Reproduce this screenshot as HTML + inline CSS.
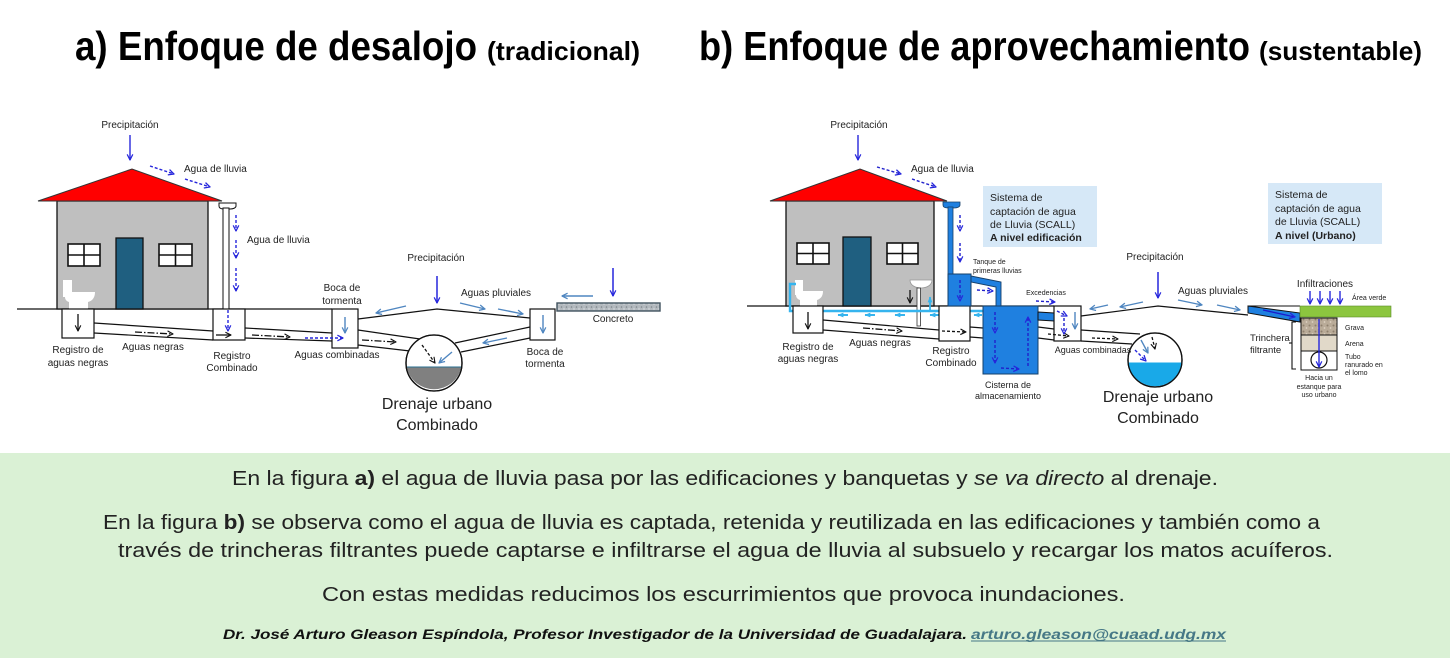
<!DOCTYPE html>
<html><head><meta charset="utf-8"><style>
html,body{margin:0;padding:0;background:#fff;}
svg{display:block;}
text{font-family:"Liberation Sans",Arial,sans-serif;fill:#222;}
</style></head><body>
<svg width="1450" height="661" viewBox="0 0 1450 661" xmlns="http://www.w3.org/2000/svg">
<defs>
<marker id="mb" viewBox="0 0 10 10" refX="9" refY="5" markerWidth="7" markerHeight="7" markerUnits="userSpaceOnUse" orient="auto"><path d="M1,1 L9,5 L1,9" fill="none" stroke="#2626dc" stroke-width="1.8"/></marker>
<marker id="ms" viewBox="0 0 10 10" refX="9" refY="5" markerWidth="7" markerHeight="7" markerUnits="userSpaceOnUse" orient="auto"><path d="M1,1 L9,5 L1,9" fill="none" stroke="#4f86c0" stroke-width="1.8"/></marker>
<marker id="mk" viewBox="0 0 10 10" refX="9" refY="5" markerWidth="7" markerHeight="7" markerUnits="userSpaceOnUse" orient="auto"><path d="M1,1 L9,5 L1,9" fill="none" stroke="#111" stroke-width="1.6"/></marker>
<marker id="mc" viewBox="0 0 10 10" refX="9" refY="5" markerWidth="6" markerHeight="6" markerUnits="userSpaceOnUse" orient="auto"><path d="M0,1 L10,5 L0,9 Z" fill="#35b4ee"/></marker>
<pattern id="grav" width="6" height="6" patternUnits="userSpaceOnUse"><rect width="6" height="6" fill="#b9ab98"/><circle cx="1.5" cy="1.5" r="1" fill="#8e7f6c"/><circle cx="4.5" cy="4" r="0.9" fill="#ddd2c2"/></pattern>
<pattern id="conc" width="5" height="5" patternUnits="userSpaceOnUse"><rect width="5" height="5" fill="#b3b9be"/><circle cx="1.5" cy="2" r="0.8" fill="#7e868c"/><circle cx="4" cy="4" r="0.7" fill="#dfe3e6"/></pattern>
</defs>

<!-- TITLES -->
<text x="75" y="60" font-size="41" font-weight="bold" textLength="402" lengthAdjust="spacingAndGlyphs" style="fill:#000">a) Enfoque de desalojo</text>
<text x="487" y="60" font-size="26" font-weight="bold" textLength="153" lengthAdjust="spacingAndGlyphs" style="fill:#000">(tradicional)</text>
<text x="699" y="60" font-size="41" font-weight="bold" textLength="551" lengthAdjust="spacingAndGlyphs" style="fill:#000">b) Enfoque de aprovechamiento</text>
<text x="1259" y="60" font-size="26" font-weight="bold" textLength="163" lengthAdjust="spacingAndGlyphs" style="fill:#000">(sustentable)</text>

<!-- ================= LEFT DIAGRAM ================= -->
<g stroke="#111" stroke-width="1.2" fill="none">
  <line x1="17" y1="309" x2="332" y2="309"/>
</g>
<!-- house -->
<rect x="57" y="201" width="151" height="108" fill="#bfbfbf" stroke="#111" stroke-width="1.3"/>
<polygon points="38,201 132,169 222,201" fill="#ff0000" stroke="#333" stroke-width="1"/>
<g fill="#fff" stroke="#111" stroke-width="1.6">
  <rect x="68" y="244" width="32" height="22"/><line x1="84" y1="244" x2="84" y2="266"/><line x1="68" y1="255" x2="100" y2="255"/>
  <rect x="159" y="244" width="33" height="22"/><line x1="175.5" y1="244" x2="175.5" y2="266"/><line x1="159" y1="255" x2="192" y2="255"/>
</g>
<rect x="116" y="238" width="27" height="71" fill="#1f5f80" stroke="#111" stroke-width="1.3"/>
<!-- toilet -->
<path d="M63,280 h9 v12 h23 c0,6 -3,9 -7,10 v7 h-19 v-7 c-3,-1 -4,-3 -4,-5 h-2 z" fill="#fff"/>
<!-- downpipe -->
<path d="M219,203 h17 v3 c0,2 -3,3 -6,3 h-6 c-3,0 -5,-1 -5,-3 z" fill="#fff" stroke="#111" stroke-width="1"/>
<rect x="223" y="208" width="6" height="101" fill="#fff" stroke="#111" stroke-width="1"/>
<!-- blue dashed arrows -->
<g stroke="#2626dc" stroke-width="1.4" stroke-dasharray="3 2" fill="none" marker-end="url(#mb)">
  <line x1="150" y1="166" x2="174" y2="174"/>
  <line x1="185" y1="179" x2="210" y2="187"/>
  <line x1="236" y1="215" x2="236" y2="231"/>
  <line x1="236" y1="240" x2="236" y2="258"/>
  <line x1="236" y1="268" x2="236" y2="291"/>
</g>
<line x1="130" y1="135" x2="130" y2="160" stroke="#2626dc" stroke-width="1.4" marker-end="url(#mb)"/>
<text x="130" y="128" font-size="10" text-anchor="middle">Precipitación</text>
<text x="184" y="172" font-size="10">Agua de lluvia</text>
<text x="247" y="243" font-size="10">Agua de lluvia</text>

<!-- pipes -->
<g stroke="#111" stroke-width="1.2" fill="none">
  <line x1="94" y1="323" x2="213" y2="331"/>
  <line x1="94" y1="333" x2="213" y2="340"/>
  <line x1="245" y1="328" x2="332" y2="333"/>
  <line x1="245" y1="338" x2="332" y2="341"/>
  <line x1="358" y1="330" x2="420" y2="339"/>
  <line x1="358" y1="345" x2="410" y2="351"/>
  <line x1="530" y1="327" x2="455" y2="343"/>
  <line x1="530" y1="338" x2="461" y2="352"/>
  <polyline points="358,319 437,309 530,318"/>
</g>
<!-- boxes -->
<g fill="#fff" stroke="#111" stroke-width="1.2">
  <rect x="62" y="309" width="32" height="29"/>
  <rect x="213" y="309" width="32" height="31"/>
  <rect x="332" y="309" width="26" height="39"/>
  <rect x="530" y="309" width="25" height="31"/>
</g>
<rect x="557" y="303" width="103" height="8" fill="url(#conc)" stroke="#41535f" stroke-width="1.4"/>
<line x1="78" y1="314" x2="78" y2="331" stroke="#111" stroke-width="1.3" marker-end="url(#mk)"/>
<line x1="216" y1="335" x2="231" y2="335" stroke="#111" stroke-width="1.3" marker-end="url(#mk)"/>
<line x1="228" y1="310" x2="228" y2="331" stroke="#2626dc" stroke-width="1.4" stroke-dasharray="3 2" marker-end="url(#mb)"/>
<line x1="305" y1="338" x2="343" y2="338" stroke="#2626dc" stroke-width="1.4" stroke-dasharray="3 2" marker-end="url(#mb)"/>
<g stroke="#111" stroke-width="1.3" stroke-dasharray="7 2 1.5 2" fill="none" marker-end="url(#mk)">
  <line x1="135" y1="332" x2="173" y2="334"/>
  <line x1="252" y1="335" x2="290" y2="337"/>
  <line x1="362" y1="340" x2="396" y2="342"/>
</g>
<!-- drain circle -->
<circle cx="434" cy="363" r="28" fill="#fff" stroke="#111" stroke-width="1.3"/>
<path d="M406.6,367 A28,28 0 0 0 461.4,367 Z" fill="#808080"/>
<line x1="406.6" y1="367" x2="461.4" y2="367" stroke="#2a6f90" stroke-width="1"/>
<circle cx="434" cy="363" r="28" fill="none" stroke="#111" stroke-width="1.3"/>
<line x1="422" y1="345" x2="435" y2="363" stroke="#111" stroke-width="1.3" stroke-dasharray="3 2" marker-end="url(#mk)"/>
<g stroke="#4f86c0" stroke-width="1.4" fill="none" marker-end="url(#ms)">
  <line x1="452" y1="352" x2="439" y2="363"/>
  <line x1="345" y1="317" x2="345" y2="333"/>
  <line x1="543" y1="315" x2="543" y2="333"/>
  <line x1="406" y1="306" x2="376" y2="313"/>
  <line x1="460" y1="303" x2="485" y2="309"/>
  <line x1="498" y1="309" x2="523" y2="314"/>
  <line x1="507" y1="338" x2="483" y2="343"/>
  <line x1="593" y1="296" x2="562" y2="296"/>
</g>
<g stroke="#2626dc" stroke-width="1.5" fill="none" marker-end="url(#mb)">
  <line x1="437" y1="276" x2="437" y2="303"/>
  <line x1="613" y1="268" x2="613" y2="296"/>
</g>
<g font-size="10" text-anchor="middle">
  <text x="78" y="353">Registro de</text>
  <text x="78" y="366">aguas negras</text>
  <text x="153" y="350">Aguas negras</text>
  <text x="232" y="359">Registro</text>
  <text x="232" y="371">Combinado</text>
  <text x="337" y="358">Aguas combinadas</text>
  <text x="342" y="291">Boca de</text>
  <text x="342" y="304">tormenta</text>
  <text x="545" y="355">Boca de</text>
  <text x="545" y="367">tormenta</text>
  <text x="436" y="261">Precipitación</text>
  <text x="496" y="296">Aguas pluviales</text>
  <text x="613" y="322">Concreto</text>
</g>
<text x="437" y="409" font-size="16" text-anchor="middle">Drenaje urbano</text>
<text x="437" y="430" font-size="16" text-anchor="middle">Combinado</text>

<!-- ================= RIGHT DIAGRAM ================= -->
<line x1="747" y1="306" x2="1054" y2="306" stroke="#111" stroke-width="1.2"/>
<rect x="786" y="201" width="148" height="105" fill="#bfbfbf" stroke="#111" stroke-width="1.3"/>
<polygon points="770,201 860,169 947,201" fill="#ff0000" stroke="#333" stroke-width="1"/>
<g fill="#fff" stroke="#111" stroke-width="1.6">
  <rect x="797" y="243" width="32" height="21"/><line x1="813" y1="243" x2="813" y2="264"/><line x1="797" y1="253.5" x2="829" y2="253.5"/>
  <rect x="887" y="243" width="31" height="21"/><line x1="902.5" y1="243" x2="902.5" y2="264"/><line x1="887" y1="253.5" x2="918" y2="253.5"/>
</g>
<rect x="843" y="237" width="28" height="69" fill="#1f5f80" stroke="#111" stroke-width="1.3"/>
<!-- toilet -->
<path d="M795,280 h8 v11 h20 c0,6 -3,8 -6,9 v6 h-17 v-6 c-3,-1 -4,-3 -4,-5 h-1 z" fill="#fff"/>
<!-- sink -->
<path d="M910,280 h22 c0,5 -5,8 -11,8 c-6,0 -11,-3 -11,-8 z" fill="#fff" stroke="#999" stroke-width="0.8"/>
<rect x="917" y="288" width="3.5" height="38" fill="#fff" stroke="#333" stroke-width="0.8"/>
<line x1="910" y1="290" x2="910" y2="303" stroke="#111" stroke-width="1.3" marker-end="url(#mk)"/>
<!-- cyan plumbing -->
<polyline points="796,284 790,284 790,311 983,311" fill="none" stroke="#35b4ee" stroke-width="2.4"/>
<line x1="930" y1="311" x2="930" y2="297" stroke="#35b4ee" stroke-width="1.8" marker-end="url(#mc)"/>
<g stroke="#35b4ee" stroke-width="2" marker-end="url(#mc)">
  <line x1="848" y1="315" x2="838" y2="315"/>
  <line x1="875" y1="315" x2="865" y2="315"/>
  <line x1="905" y1="315" x2="895" y2="315"/>
  <line x1="940" y1="315" x2="930" y2="315"/>
  <line x1="982" y1="315" x2="974" y2="315"/>
</g>
<!-- pipes -->
<g stroke="#111" stroke-width="1.2" fill="none">
  <line x1="823" y1="320" x2="939" y2="330"/>
  <line x1="823" y1="330" x2="939" y2="339"/>
  <line x1="970" y1="327" x2="983" y2="328"/>
  <line x1="970" y1="337" x2="983" y2="338"/>
  <line x1="1038" y1="327" x2="1054" y2="329"/>
  <line x1="1038" y1="338" x2="1054" y2="340"/>
  <line x1="1081" y1="330" x2="1140" y2="334"/>
  <line x1="1081" y1="341" x2="1132" y2="344"/>
  <polyline points="1081,316 1158,306 1248,315"/>
</g>
<g fill="#fff" stroke="#111" stroke-width="1.2">
  <rect x="793" y="306" width="30" height="27"/>
  <rect x="939" y="306" width="31" height="35"/>
  <rect x="1054" y="306" width="27" height="35"/>
</g>
<line x1="808" y1="312" x2="808" y2="329" stroke="#111" stroke-width="1.3" marker-end="url(#mk)"/>
<line x1="942" y1="331" x2="966" y2="332" stroke="#111" stroke-width="1.3" stroke-dasharray="3 2" marker-end="url(#mk)"/>
<line x1="1048" y1="334" x2="1069" y2="336" stroke="#111" stroke-width="1.3" stroke-dasharray="3 2" marker-end="url(#mk)"/>
<line x1="1092" y1="338" x2="1118" y2="339" stroke="#111" stroke-width="1.3" stroke-dasharray="3 2" marker-end="url(#mk)"/>
<line x1="863" y1="328" x2="902" y2="331" stroke="#111" stroke-width="1.3" stroke-dasharray="7 2 1.5 2" marker-end="url(#mk)"/>
<!-- downpipe blue + tank + cistern -->
<path d="M943,202 h17 v3 c0,2 -3,3 -6,3 h-6 c-3,0 -5,-1 -5,-3 z" fill="#1f80e0" stroke="#16406a" stroke-width="0.8"/>
<rect x="948" y="207" width="5" height="67" fill="#1f80e0" stroke="#16406a" stroke-width="0.8"/>
<polygon points="971,276 1001,282 1001,306 996,306 996,287 971,282" fill="#1f80e0" stroke="#16406a" stroke-width="0.9"/>
<rect x="948" y="274" width="23" height="32" fill="#1f80e0" stroke="#16406a" stroke-width="1"/>
<rect x="983" y="306" width="55" height="68" fill="#1f80e0" stroke="#16406a" stroke-width="1"/>
<polygon points="1038,312 1054,313 1054,321 1038,320" fill="#1f80e0" stroke="#111" stroke-width="1"/>
<g stroke="#2020cc" stroke-width="1.4" stroke-dasharray="3 2" fill="none" marker-end="url(#mb)">
  <line x1="877" y1="167" x2="901" y2="174"/>
  <line x1="912" y1="179" x2="936" y2="187"/>
  <line x1="960" y1="215" x2="960" y2="231"/>
  <line x1="960" y1="243" x2="960" y2="262"/>
  <line x1="960" y1="280" x2="960" y2="301"/>
  <line x1="977" y1="290" x2="993" y2="291"/>
  <line x1="995" y1="312" x2="995" y2="333"/>
  <line x1="995" y1="340" x2="995" y2="363"/>
  <line x1="1028" y1="366" x2="1028" y2="317"/>
  <line x1="1001" y1="368" x2="1019" y2="369"/>
  <line x1="1036" y1="301" x2="1055" y2="302"/>
  <line x1="1057" y1="311" x2="1067" y2="316"/>
  <line x1="1064" y1="318" x2="1064" y2="334"/>
  <line x1="1135" y1="350" x2="1146" y2="361"/>
</g>
<line x1="858" y1="135" x2="858" y2="160" stroke="#2626dc" stroke-width="1.4" marker-end="url(#mb)"/>
<!-- drain circle right -->
<circle cx="1155" cy="360" r="27" fill="#fff" stroke="#111" stroke-width="1.3"/>
<path d="M1128.2,362.5 A27,27 0 0 0 1181.8,362.5 Z" fill="#19a9e8"/>
<circle cx="1155" cy="360" r="27" fill="none" stroke="#111" stroke-width="1.3"/>
<line x1="1135" y1="350" x2="1146" y2="361" stroke="#2626dc" stroke-width="1.4" stroke-dasharray="3 2" marker-end="url(#mb)"/>
<line x1="1152" y1="337" x2="1155" y2="349" stroke="#111" stroke-width="1.3" stroke-dasharray="3 2" marker-end="url(#mk)"/>
<g stroke="#4f86c0" stroke-width="1.4" fill="none" marker-end="url(#ms)">
  <line x1="1141" y1="340" x2="1148" y2="353"/>
  <line x1="1075" y1="312" x2="1075" y2="329"/>
  <line x1="1108" y1="305" x2="1090" y2="309"/>
  <line x1="1143" y1="302" x2="1120" y2="307"/>
  <line x1="1178" y1="300" x2="1202" y2="305"/>
  <line x1="1217" y1="305" x2="1240" y2="310"/>
</g>
<line x1="1158" y1="272" x2="1158" y2="298" stroke="#2626dc" stroke-width="1.5" marker-end="url(#mb)"/>
<!-- trinchera -->
<line x1="1248" y1="306" x2="1300" y2="306" stroke="#111" stroke-width="1"/>
<polygon points="1248,306 1300,313 1300,322 1248,313" fill="#1f80e0" stroke="#111" stroke-width="1"/>
<line x1="1263" y1="310" x2="1295" y2="317" stroke="#1a1acc" stroke-width="1.4" marker-end="url(#mb)"/>
<rect x="1300" y="306" width="91" height="11" fill="#8cc63f" stroke="#5a8a2a" stroke-width="0.6"/>
<rect x="1301" y="318" width="36" height="17" fill="url(#grav)" stroke="#111" stroke-width="1"/>
<rect x="1301" y="335" width="36" height="16" fill="#e1d9c9" stroke="#111" stroke-width="1"/>
<rect x="1301" y="351" width="36" height="19" fill="#fff" stroke="#111" stroke-width="1"/>
<circle cx="1319" cy="360" r="8" fill="#fff" stroke="#111" stroke-width="1.2"/>
<line x1="1319" y1="319" x2="1319" y2="367" stroke="#2626dc" stroke-width="1.4" marker-end="url(#mb)"/>
<polyline points="1296,322 1292,322 1292,369 1296,369" fill="none" stroke="#111" stroke-width="1.1"/>
<line x1="1292" y1="343" x2="1289" y2="343" stroke="#111" stroke-width="1.1"/>
<g stroke="#2626dc" stroke-width="1.4" fill="none" marker-end="url(#mb)">
  <line x1="1310" y1="291" x2="1310" y2="304"/>
  <line x1="1320" y1="291" x2="1320" y2="304"/>
  <line x1="1330" y1="291" x2="1330" y2="304"/>
  <line x1="1340" y1="291" x2="1340" y2="304"/>
</g>
<!-- SCALL boxes -->
<rect x="983" y="186" width="114" height="61" fill="#d6e8f7"/>
<rect x="1268" y="183" width="114" height="61" fill="#d6e8f7"/>
<g font-size="10.5">
  <text x="990" y="201">Sistema de</text>
  <text x="990" y="215">captación de agua</text>
  <text x="990" y="228">de Lluvia (SCALL)</text>
  <text x="990" y="241" font-weight="bold">A nivel edificación</text>
  <text x="1275" y="198">Sistema de</text>
  <text x="1275" y="212">captación de agua</text>
  <text x="1275" y="225">de Lluvia (SCALL)</text>
  <text x="1275" y="239" font-weight="bold">A nivel (Urbano)</text>
</g>
<g font-size="10" text-anchor="middle">
  <text x="859" y="128">Precipitación</text>
  <text x="808" y="350">Registro de</text>
  <text x="808" y="362">aguas negras</text>
  <text x="880" y="346">Aguas negras</text>
  <text x="951" y="354">Registro</text>
  <text x="951" y="366">Combinado</text>
  <text x="1155" y="260">Precipitación</text>
  <text x="1213" y="294">Aguas pluviales</text>
  <text x="1325" y="287">Infiltraciones</text>
</g>
<text x="911" y="172" font-size="10">Agua de lluvia</text>
<g font-size="9" text-anchor="middle">
  <text x="1008" y="388">Cisterna de</text>
  <text x="1008" y="399">almacenamiento</text>
  <text x="1093" y="353">Aguas combinadas</text>
</g>
<g font-size="9.5">
  <text x="1250" y="341">Trinchera</text>
  <text x="1250" y="353">filtrante</text>
</g>
<g font-size="7">
  <text x="973" y="264">Tanque de</text>
  <text x="973" y="273">primeras lluvias</text>
  <text x="1046" y="295" text-anchor="middle">Excedencias</text>
  <text x="1352" y="300">Área verde</text>
  <text x="1345" y="330">Grava</text>
  <text x="1345" y="346">Arena</text>
  <text x="1345" y="359">Tubo</text>
  <text x="1345" y="367">ranurado en</text>
  <text x="1345" y="375">el lomo</text>
  <text x="1319" y="380" text-anchor="middle">Hacia un</text>
  <text x="1319" y="389" text-anchor="middle">estanque para</text>
  <text x="1319" y="397" text-anchor="middle">uso urbano</text>
</g>
<text x="1158" y="402" font-size="16" text-anchor="middle">Drenaje urbano</text>
<text x="1158" y="423" font-size="16" text-anchor="middle">Combinado</text>

<!-- ================= BOTTOM BAND ================= -->
<rect x="0" y="453" width="1450" height="205" fill="#daf1d5"/>
<g font-size="20" style="fill:#111">
  <text x="232" y="485" textLength="986" lengthAdjust="spacingAndGlyphs">En la figura <tspan font-weight="bold">a)</tspan> el agua de lluvia pasa por las edificaciones y banquetas y <tspan font-style="italic">se va directo</tspan> al drenaje.</text>
  <text x="103" y="529" textLength="1217" lengthAdjust="spacingAndGlyphs">En la figura <tspan font-weight="bold">b)</tspan> se observa como el agua de lluvia es captada, retenida y reutilizada en las edificaciones y también como a</text>
  <text x="118" y="557" textLength="1215" lengthAdjust="spacingAndGlyphs">través de trincheras filtrantes puede captarse e infiltrarse el agua de lluvia al subsuelo y recargar los  matos acuíferos.</text>
  <text x="322" y="601" textLength="803" lengthAdjust="spacingAndGlyphs">Con estas medidas reducimos los escurrimientos que provoca inundaciones.</text>
</g>
<text x="223" y="639" font-size="14" font-weight="bold" font-style="italic" textLength="744" lengthAdjust="spacingAndGlyphs" style="fill:#111">Dr. José Arturo Gleason Espíndola, Profesor Investigador de la Universidad de Guadalajara.</text>
<text x="971" y="639" font-size="14" font-weight="bold" font-style="italic" textLength="255" lengthAdjust="spacingAndGlyphs" style="fill:#467886">arturo.gleason@cuaad.udg.mx</text>
<line x1="971" y1="641" x2="1226" y2="641" stroke="#467886" stroke-width="1"/>
</svg>
</body></html>
